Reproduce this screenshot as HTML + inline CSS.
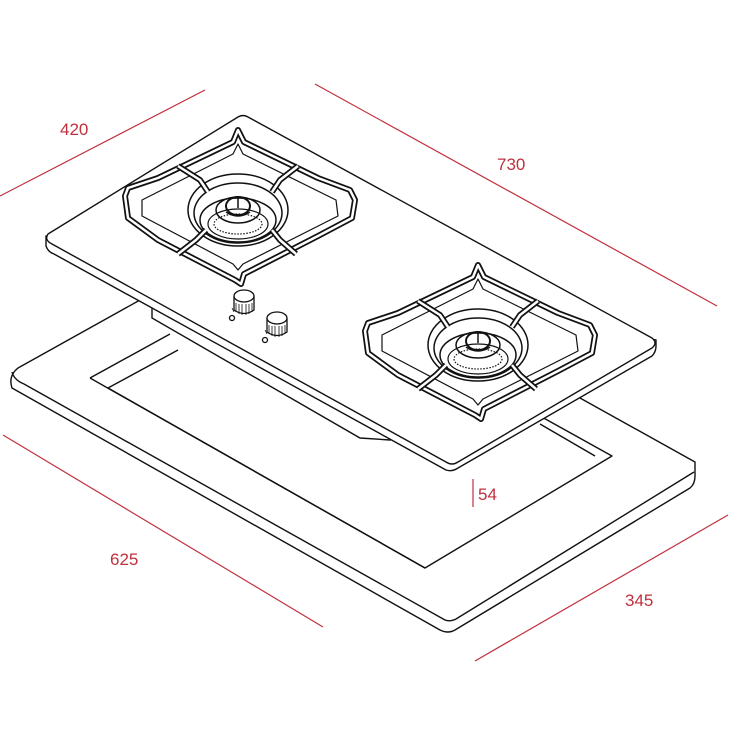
<!DOCTYPE html>
<html><head><style>
html,body{margin:0;padding:0;background:#fff;}
svg{display:block;}
text{font-family:"Liberation Sans",sans-serif;fill:#c0303c;font-size:17px;}
</style></head><body>
<svg width="740" height="740" viewBox="0 0 740 740" xmlns="http://www.w3.org/2000/svg">
<defs>
<path id="gp" d="M-113,-14 L-110,-22 L-80,-32 L-5,-68 L0,-80 L6,-68 L80,-32 L112,-20 L117,-10 L114,8 L80,26 L6,64 L3,74 L-3,70 L-80,30 L-110,8 Z"/>
<path id="gf" d="M-60,-44 L-38,-30 L-30,-18 M60,-44 L42,-30 L34,-18 M-60,44 L-42,30 L-32,20 M58,44 L42,30 L34,20"/>
<g id="grate">
  <g fill="none" stroke-linejoin="round">
    <use href="#gp" stroke="#111" stroke-width="6"/>
    <use href="#gp" stroke="#fff" stroke-width="2.5"/>
    <path d="M-96,-10 L-5,-56 L0,-66 L5,-56 L98,-10 L100,6 L5,54 L0,60 L-5,54 L-96,6 Z" stroke="#111" stroke-width="1.2"/>
    <ellipse cx="0" cy="0" rx="50" ry="36" stroke="#111" stroke-width="1.5" fill="#fff"/>
    <ellipse cx="0" cy="3" rx="44" ry="30" stroke="#111" stroke-width="1.5"/>
    <ellipse cx="0" cy="10" rx="38" ry="22" stroke="#111" stroke-width="1.5"/>
    <ellipse cx="0" cy="14" rx="30" ry="15" stroke="#111" stroke-width="1.2"/>
    <ellipse cx="0" cy="14" rx="24" ry="10" stroke="#111" stroke-width="1.2" stroke-dasharray="1.5 1.5"/>
    <ellipse cx="0" cy="0" rx="22" ry="13" stroke="#111" stroke-width="1.5"/>
    <ellipse cx="0" cy="-4" rx="12" ry="9" stroke="#111" stroke-width="2"/>
    <path d="M-12,2 Q0,10 12,2" stroke="#111" stroke-width="1.5"/>
    <line x1="0" y1="-12" x2="0" y2="-2" stroke="#111" stroke-width="1.5"/>
    <use href="#gf" stroke="#111" stroke-width="6"/>
    <use href="#gf" stroke="#fff" stroke-width="2.5"/>
  </g>
</g>
<g id="knob" fill="#fff" stroke="#111" stroke-width="1.3">
  <path d="M-10,0 L-10,14 Q0,21 10,14 L10,0"/>
  <ellipse cx="0" cy="0" rx="10" ry="6"/>
  <path d="M-8,7 L-8,16 M-5,8 L-5,18 M-2,8 L-2,19 M2,8 L2,19 M5,8 L5,18 M8,7 L8,16" stroke-width="0.8"/>
  <circle cx="-12" cy="22" r="2.5"/>
  <path d="M-12,12 L-10,16" stroke-width="0.8"/>
</g>
</defs>

<g fill="none" stroke="#111" stroke-width="1.4" stroke-linejoin="round">
  <path d="M140,300 L18,368 Q8,376 12,388 L440,630 Q448,634 455,630 L690,488 Q695,484 695,476 L695,462 L580,398" fill="#fff"/>
  <path d="M12,372 Q14,380 24,384 L445,620 Q450,622 456,619 L694,472"/>
  <path d="M90,378 L425,568 L612,456 L540,416"/>
  <path d="M90,378 L170,334"/>
  <path d="M108,388 L178,350"/>
  <path d="M108,388 L425,568"/>
  <path d="M540,424 L595,456"/>
</g>

<g fill="#fff" stroke="#111" stroke-width="1.4">
  <path d="M152,300 L152,318 L360,438 L390,440 L460,420 L460,400 L152,300 Z"/>
</g>

<g stroke="#111" stroke-width="1.4" stroke-linejoin="round">
  <path d="M46,236 L46,246 Q48,252 54,254 L446,470 Q452,472 458,468 L652,356 Q656,352 656,346 L656,340 Z" fill="#fff"/>
  <path d="M48,234 L238,117 Q243,114 248,117 L652,338 Q658,343 652,348 L458,462 Q452,466 446,462 L52,244 Q44,240 48,234 Z" fill="#fff"/>
</g>

<use href="#grate" transform="translate(238,210)"/>
<use href="#grate" transform="translate(478,345)"/>
<use href="#knob" transform="translate(244,296)"/>
<use href="#knob" transform="translate(277,318)"/>

<g stroke="#c0303c" stroke-width="1.2">
  <line x1="0" y1="196" x2="205" y2="90"/>
  <line x1="315" y1="84" x2="717" y2="306"/>
  <line x1="3" y1="435" x2="323" y2="627"/>
  <line x1="475" y1="661" x2="728" y2="515"/>
  <line x1="473" y1="479" x2="473" y2="507"/>
</g>
<text x="60" y="135">420</text>
<text x="497" y="170">730</text>
<text x="110" y="565">625</text>
<text x="625" y="606">345</text>
<text x="478" y="500">54</text>
</svg>
</body></html>
